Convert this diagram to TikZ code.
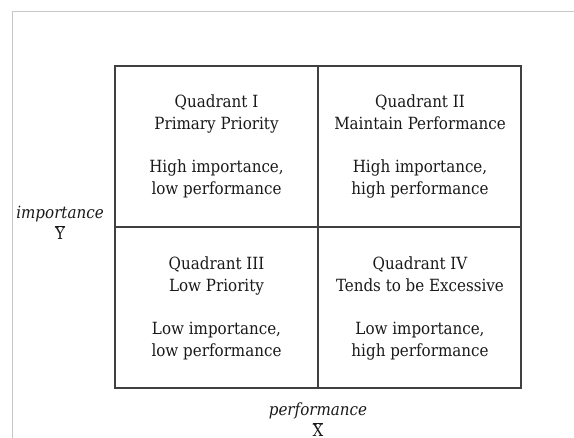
\documentclass[tikz,border=0pt]{standalone}
\usepackage{fontspec}
\setmainfont{DejaVu Serif Condensed}
\begin{document}
\begin{tikzpicture}[x=1pt,y=1pt,
  frameline/.style={draw=black!22,line width=1.6pt},
  gridline/.style={draw=black!75,line width=1.2pt},
  quadtext/.style={align=center,font=\fontsize{16.8}{22}\selectfont,text=black!90},
  axistext/.style={align=center,font=\fontsize{16.8}{21}\selectfont,text=black!90}]
\useasboundingbox (0,0) rectangle (574,438);
% outer page frame, open at right and bottom
\draw[frameline] (12.5,-5) -- (12.5,426.5) -- (580,426.5);
% quadrant grid
\coordinate (tl) at (115,372);
\coordinate (br) at (521,50);
\coordinate (mt) at (318,372);
\coordinate (mb) at (318,50);
\coordinate (ml) at (115,211);
\coordinate (mr) at (521,211);
\draw[gridline] (tl) rectangle (br);
\draw[gridline] (mt) -- (mb);
\draw[gridline] (ml) -- (mr);
% quadrant labels
\node[quadtext] (q1) at (216.5,292) {Quadrant I\\Primary Priority\\[21pt]High importance,\\low performance};
\node[quadtext] (q2) at (420,292) {Quadrant II\\Maintain Performance\\[21pt]High importance,\\high performance};
\node[quadtext] (q3) at (216.5,130) {Quadrant III\\Low Priority\\[21pt]Low importance,\\low performance};
\node[quadtext] (q4) at (420,130) {Quadrant IV\\Tends to be Excessive\\[21pt]Low importance,\\high performance};
% axis labels
\node[axistext] (ylab) at (60,215) {\textit{importance}\\$\overline{\mbox{Y}}$};
\node[axistext] (xlab) at (318,18) {\textit{performance}\\$\overline{\mbox{X}}$};
\end{tikzpicture}
\end{document}
